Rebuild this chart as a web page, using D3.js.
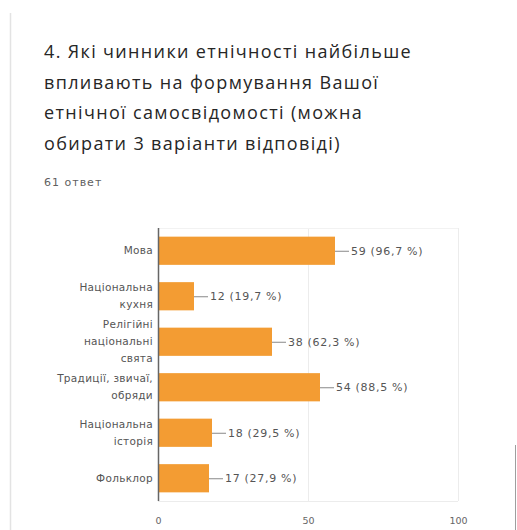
<!DOCTYPE html>
<html>
<head>
<meta charset="utf-8">
<script src="https://cdn.jsdelivr.net/npm/d3@7"></script>
<style>
  html, body { margin: 0; padding: 0; background: #fff; }
  svg { display: block; }
</style>
</head>
<body>
<svg id="chart" width="517" height="530"></svg>
<script>
// Survey question, response count and answer options
const titleLines = [
  "4. Які чинники етнічності найбільше",
  "впливають на формування Вашої",
  "етнічної самосвідомості (можна",
  "обирати 3 варіанти відповіді)"
];
const responsesLabel = "61 ответ";
const categories = [
  ["Мова"],
  ["Національна", "кухня"],
  ["Релігійні", "національні", "свята"],
  ["Традиції, звичаї,", "обряди"],
  ["Національна", "історія"],
  ["Фольклор"]
];
const counts = [59, 12, 38, 54, 18, 17];
const percents = ["96,7", "19,7", "62,3", "88,5", "29,5", "27,9"];
const tickValues = [0, 50, 100];

const svg = d3.select("#chart");

// card edge on the left
svg.append("line")
  .attr("x1", 10.5).attr("x2", 10.5).attr("y1", 13).attr("y2", 530)
  .attr("stroke", "#e3e3e3").attr("stroke-width", 1.5);

// edge of the neighbouring panel at bottom right
svg.append("line")
  .attr("x1", 515.5).attr("x2", 515.5).attr("y1", 445).attr("y2", 530)
  .attr("stroke", "#9e9e9e").attr("stroke-width", 1);

// question title
const title = svg.append("text")
  .attr("x", 44)
  .attr("font-family", "'Open Sans', sans-serif")
  .attr("font-size", 18)
  .attr("letter-spacing", 1.35)
  .attr("fill", "#262626");
titleLines.forEach((t, i) => {
  title.append("tspan").attr("x", 44).attr("y", 58 + i * 30.5).text(t);
});

svg.append("text")
  .attr("x", 44).attr("y", 186)
  .attr("font-family", "'DejaVu Sans', sans-serif")
  .attr("font-size", 11)
  .attr("letter-spacing", 1)
  .attr("fill", "#5f5f5f")
  .text(responsesLabel);

// plot area
const plotLeft = 158, plotRight = 458, plotTop = 228, plotBottom = 501;

const x = d3.scaleLinear().domain([0, 100]).range([plotLeft, plotRight]);
const y = d3.scaleBand()
  .domain(d3.range(categories.length))
  .range([plotTop, plotBottom])
  .paddingInner(0.38)
  .paddingOuter(0.19);

// frame and vertical gridlines
const grid = svg.append("g");
grid.selectAll("line.v")
  .data(tickValues.slice(1))
  .join("line")
  .attr("x1", d => x(d) + 0.5).attr("x2", d => x(d) + 0.5)
  .attr("y1", plotTop).attr("y2", plotBottom)
  .attr("stroke", "#ececec");
grid.append("line")
  .attr("x1", plotLeft).attr("x2", plotRight).attr("y1", plotTop + 0.5).attr("y2", plotTop + 0.5)
  .attr("stroke", "#f2f2f2");
grid.append("line")
  .attr("x1", plotLeft).attr("x2", plotRight).attr("y1", plotBottom + 0.5).attr("y2", plotBottom + 0.5)
  .attr("stroke", "#ececec");

// bars
svg.append("g").selectAll("rect")
  .data(counts)
  .join("rect")
  .attr("x", x(0))
  .attr("y", (d, i) => y(i))
  .attr("width", d => x(d) - x(0))
  .attr("height", y.bandwidth())
  .attr("fill", "#f39c33");

// value labels with leader lines
const lab = svg.append("g").selectAll("g")
  .data(counts)
  .join("g")
  .attr("transform", (d, i) => `translate(${x(d)},${y(i) + y.bandwidth() / 2})`);
lab.append("line")
  .attr("x1", 0).attr("x2", 14).attr("y1", 0.5).attr("y2", 0.5)
  .attr("stroke", "#888").attr("stroke-width", 1);
lab.append("text")
  .attr("x", 16).attr("dy", "0.35em")
  .attr("font-family", "'DejaVu Sans', sans-serif")
  .attr("font-size", 11)
  .attr("letter-spacing", 0.7)
  .attr("fill", "#555")
  .text((d, i) => `${d} (${percents[i]} %)`);

// category labels
const catG = svg.append("g").selectAll("text")
  .data(categories)
  .join("text")
  .attr("text-anchor", "end")
  .attr("font-family", "'DejaVu Sans', sans-serif")
  .attr("font-size", 10.5)
  .attr("letter-spacing", 0.3)
  .attr("fill", "#555");
catG.each(function(lines, i) {
  const cy = y(i) + y.bandwidth() / 2;
  const lh = 17;
  const y0 = cy - (lines.length - 1) * lh / 2;
  d3.select(this).selectAll("tspan")
    .data(lines)
    .join("tspan")
    .attr("x", plotLeft - 5)
    .attr("y", (d, j) => y0 + j * lh)
    .attr("dy", "0.35em")
    .text(d => d);
});

// y axis line
svg.append("line")
  .attr("x1", plotLeft + 0.5).attr("x2", plotLeft + 0.5).attr("y1", plotTop).attr("y2", plotBottom)
  .attr("stroke", "#666").attr("stroke-width", 1.5);

// x axis tick labels
const xAxis = d3.axisBottom(x).tickValues(tickValues).tickSize(0).tickPadding(0);
const ax = svg.append("g")
  .attr("transform", `translate(0,${plotBottom + 16})`)
  .call(xAxis);
ax.select(".domain").remove();
ax.selectAll("text")
  .attr("font-family", "'DejaVu Sans', sans-serif")
  .attr("font-size", 9.5)
  .attr("fill", "#666");
</script>
</body>
</html>
